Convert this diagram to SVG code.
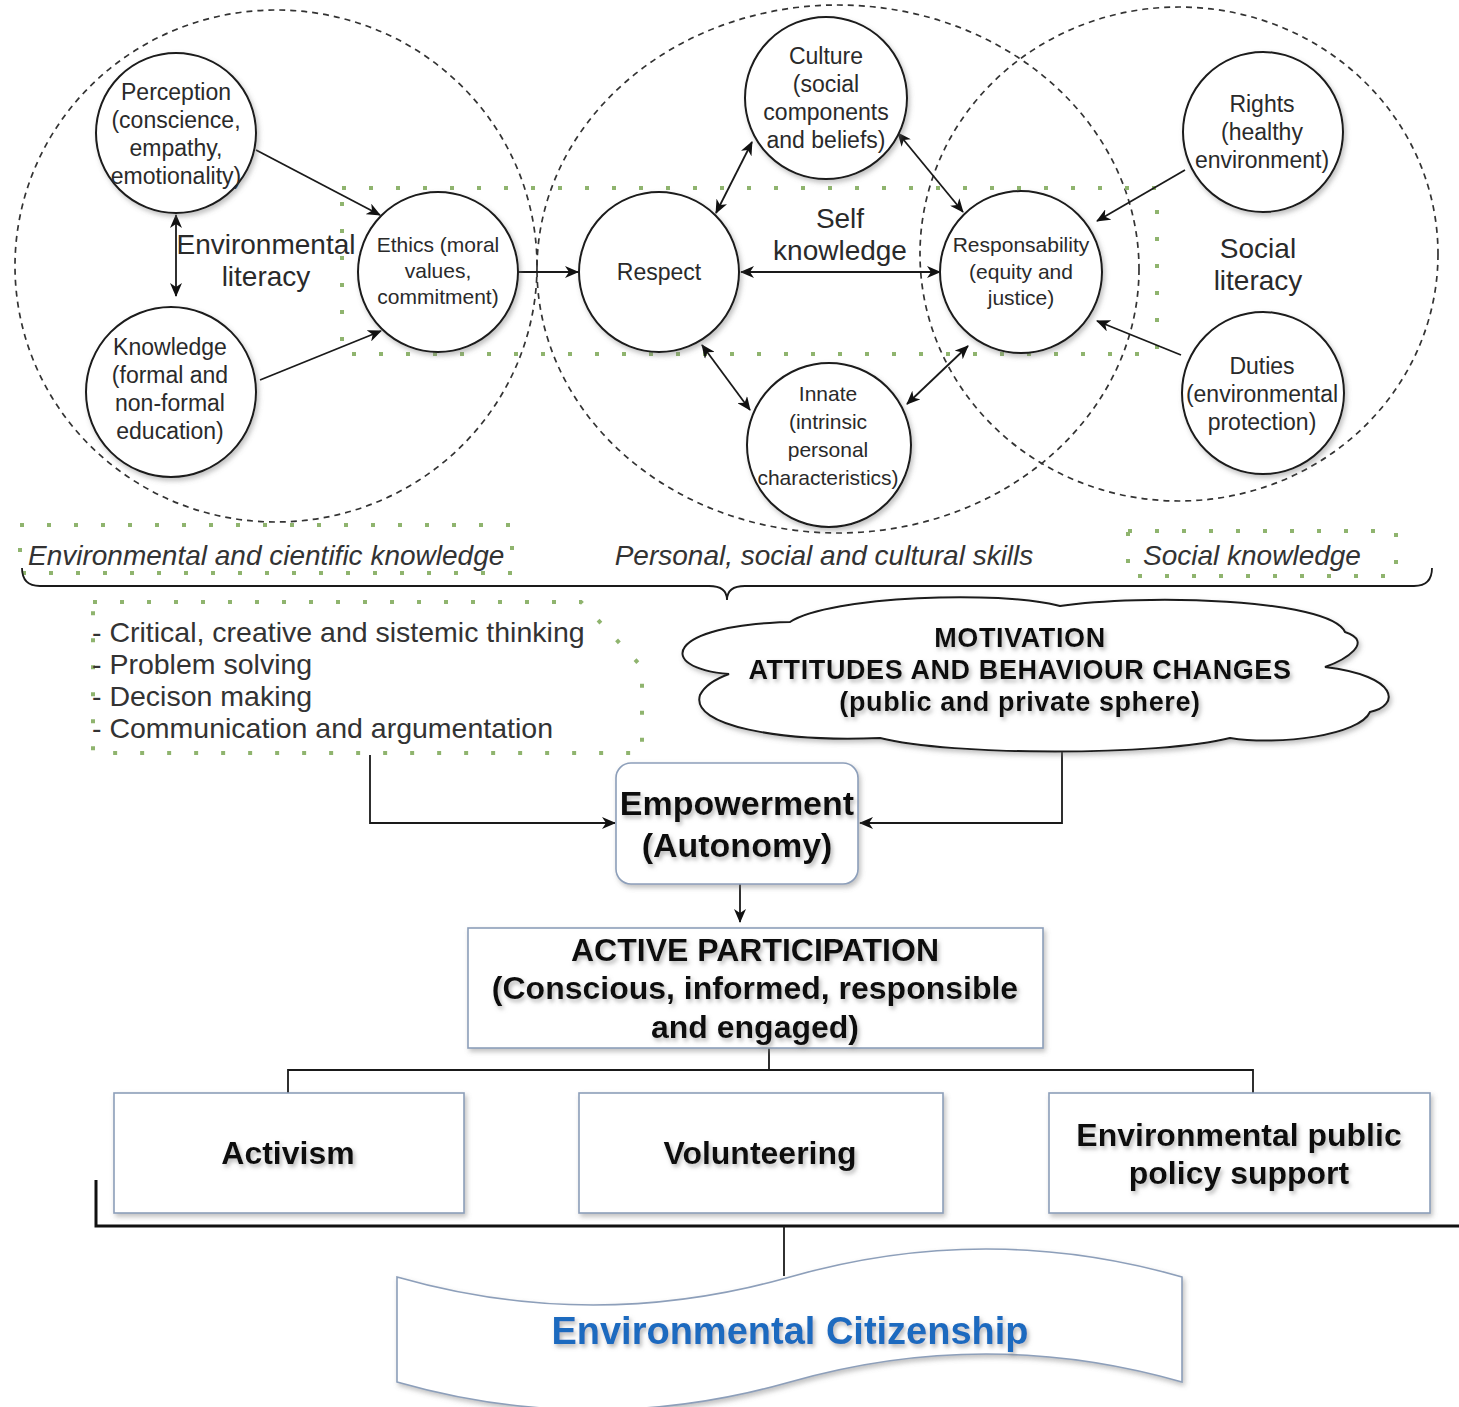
<svg xmlns="http://www.w3.org/2000/svg" width="1459" height="1407" viewBox="0 0 1459 1407">
<defs>
<style>
.dash{fill:none;stroke:#333;stroke-width:1.7;stroke-dasharray:6 5}
.gdot{fill:none;stroke:#8fb46e;stroke-width:4;stroke-dasharray:4 23}
.node{fill:#fff;stroke:#1a1a1a;stroke-width:2}
.box{fill:#fff;stroke:#8d9fba;stroke-width:1.6}
.ln{fill:none;stroke:#1a1a1a;stroke-width:1.8}
.t{font-family:"Liberation Sans",Arial,sans-serif;fill:#2a2a2a;text-anchor:middle}
.s23{font-size:23px}
.s21{font-size:21px}
.s28{font-size:28px}
.it{font-family:"Liberation Sans",Arial,sans-serif;font-style:italic;font-size:28px;fill:#333}
.b{font-family:"Liberation Sans",Arial,sans-serif;font-weight:bold;fill:#111;text-anchor:middle}
</style>
<marker id="ah" viewBox="0 0 14 12" markerWidth="14" markerHeight="12" refX="13" refY="6" orient="auto-start-reverse" markerUnits="userSpaceOnUse">
<path d="M0,0 L14,6 L0,12 L4,6 Z" fill="#111"/>
</marker>
<filter id="sh" x="-20%" y="-20%" width="140%" height="140%">
<feDropShadow dx="2" dy="3" stdDeviation="2.5" flood-color="#777" flood-opacity="0.45"/>
</filter>
<filter id="tsh" x="-10%" y="-30%" width="120%" height="160%">
<feDropShadow dx="2" dy="3" stdDeviation="2" flood-color="#888" flood-opacity="0.6"/>
</filter>
</defs>
<rect width="1459" height="1407" fill="#fff"/>

<g id="background-groups">
<ellipse class="dash" cx="276" cy="266" rx="261" ry="256"/>
<ellipse class="dash" cx="838" cy="269" rx="301" ry="264"/>
<ellipse class="dash" cx="1179" cy="254" rx="259" ry="247"/>
<rect class="gdot" x="342" y="188" width="815" height="166"/>
<rect class="gdot" x="20" y="525" width="492" height="48"/>
<rect class="gdot" x="1128" y="531" width="268" height="45"/>
<path class="gdot" d="M93,602 L581,602 L642,667 L642,753 L93,753 Z"/>
</g>

<g id="labels">
<text class="t s28" x="266" y="254">Environmental</text>
<text class="t s28" x="266" y="286">literacy</text>
<text class="t s28" x="840" y="228">Self</text>
<text class="t s28" x="840" y="260">knowledge</text>
<text class="t s28" x="1258" y="258">Social</text>
<text class="t s28" x="1258" y="290">literacy</text>
<text class="it" x="28" y="565">Environmental and cientific knowledge</text>
<text class="it" x="824" y="565" text-anchor="middle">Personal, social and cultural skills</text>
<text class="it" x="1143" y="565">Social knowledge</text>
<g font-family="Liberation Sans, Arial, sans-serif" font-size="28.5" fill="#333">
<text x="92" y="642">- Critical, creative and sistemic thinking</text>
<text x="92" y="674">- Problem solving</text>
<text x="92" y="706">- Decison making</text>
<text x="92" y="738">- Communication and argumentation</text>
</g>
</g>

<g id="connectors">
<line class="ln" x1="176" y1="215" x2="176" y2="296" marker-start="url(#ah)" marker-end="url(#ah)"/>
<line class="ln" x1="256" y1="150" x2="380" y2="215" marker-end="url(#ah)"/>
<line class="ln" x1="260" y1="380" x2="381" y2="331" marker-end="url(#ah)"/>
<line class="ln" x1="518" y1="272" x2="578" y2="272" marker-end="url(#ah)"/>
<line class="ln" x1="716" y1="213" x2="752" y2="142" marker-start="url(#ah)" marker-end="url(#ah)"/>
<line class="ln" x1="898" y1="133" x2="963" y2="212" marker-start="url(#ah)" marker-end="url(#ah)"/>
<line class="ln" x1="741" y1="272" x2="940" y2="272" marker-start="url(#ah)" marker-end="url(#ah)"/>
<line class="ln" x1="702" y1="345" x2="750" y2="410" marker-start="url(#ah)" marker-end="url(#ah)"/>
<line class="ln" x1="907" y1="404" x2="968" y2="346" marker-start="url(#ah)" marker-end="url(#ah)"/>
<line class="ln" x1="1185" y1="170" x2="1097" y2="221" marker-end="url(#ah)"/>
<line class="ln" x1="1181" y1="355" x2="1097" y2="321" marker-end="url(#ah)"/>
<path class="ln" d="M22,568 Q22,586 40,586 L709,586 Q727,586 727,600 Q727,586 745,586 L1414,586 Q1432,586 1432,568"/>
<path class="ln" d="M370,755 L370,823 L615,823" marker-end="url(#ah)"/>
<path class="ln" d="M1062,750 L1062,823 L860,823" marker-end="url(#ah)"/>
<line class="ln" x1="740" y1="884" x2="740" y2="922" marker-end="url(#ah)"/>
<path class="ln" d="M769,1048 L769,1070 M288,1093 L288,1070 L1253,1070 L1253,1093"/>
<path fill="none" stroke="#111" stroke-width="3" d="M96,1180 L96,1226 L1459,1226"/>
<line class="ln" x1="784" y1="1226" x2="784" y2="1276"/>
</g>

<g id="perception" filter="url(#sh)"><circle class="node" cx="176" cy="133" r="80"/></g>
<g class="t s23"><text x="176" y="100">Perception</text><text x="176" y="128">(conscience,</text><text x="176" y="156">empathy,</text><text x="176" y="184">emotionality)</text></g>

<g id="knowledge" filter="url(#sh)"><circle class="node" cx="171" cy="392" r="85"/></g>
<g class="t s23"><text x="170" y="355">Knowledge</text><text x="170" y="383">(formal and</text><text x="170" y="411">non-formal</text><text x="170" y="439">education)</text></g>

<g id="ethics" filter="url(#sh)"><circle class="node" cx="438" cy="272" r="80"/></g>
<g class="t s21"><text x="438" y="252">Ethics (moral</text><text x="438" y="278">values,</text><text x="438" y="304">commitment)</text></g>

<g id="respect" filter="url(#sh)"><circle class="node" cx="659" cy="272" r="80"/></g>
<g class="t s23"><text x="659" y="280">Respect</text></g>

<g id="culture" filter="url(#sh)"><circle class="node" cx="826" cy="98" r="81"/></g>
<g class="t s23"><text x="826" y="64">Culture</text><text x="826" y="92">(social</text><text x="826" y="120">components</text><text x="826" y="148">and beliefs)</text></g>

<g id="innate" filter="url(#sh)"><circle class="node" cx="829" cy="445" r="82"/></g>
<g class="t s21"><text x="828" y="401">Innate</text><text x="828" y="429">(intrinsic</text><text x="828" y="457">personal</text><text x="828" y="485">characteristics)</text></g>

<g id="responsability" filter="url(#sh)"><circle class="node" cx="1021" cy="272" r="81"/></g>
<g class="t s21"><text x="1021" y="252">Responsability</text><text x="1021" y="279">(equity and</text><text x="1021" y="305">justice)</text></g>

<g id="rights" filter="url(#sh)"><circle class="node" cx="1263" cy="132" r="80"/></g>
<g class="t s23"><text x="1262" y="112">Rights</text><text x="1262" y="140">(healthy</text><text x="1262" y="168">environment)</text></g>

<g id="duties" filter="url(#sh)"><circle class="node" cx="1263" cy="393" r="81"/></g>
<g class="t s23"><text x="1262" y="374">Duties</text><text x="1262" y="402">(environmental</text><text x="1262" y="430">protection)</text></g>

<g id="motivation">
<path filter="url(#sh)" fill="#fff" stroke="#1a1a1a" stroke-width="2" d="M729,674 C655,668 665,625 790,622 C830,596 1000,590 1060,606 C1140,594 1330,598 1345,632 C1375,642 1345,660 1325,667 C1400,676 1400,706 1370,712 C1360,735 1280,746 1230,738 C1160,756 950,756 880,738 C780,742 690,726 700,695 C705,685 718,678 729,674 Z"/>
<g class="b" font-size="27" letter-spacing="0.6" filter="url(#tsh)">
<text x="1020" y="647">MOTIVATION</text>
<text x="1020" y="679">ATTITUDES AND BEHAVIOUR CHANGES</text>
<text x="1020" y="711">(public and private sphere)</text>
</g>
</g>

<g id="empowerment">
<rect class="box" filter="url(#sh)" x="616" y="763" width="242" height="121" rx="15"/>
<g class="b" font-size="34" filter="url(#tsh)"><text x="737" y="815">Empowerment</text><text x="737" y="857">(Autonomy)</text></g>
</g>

<g id="active-participation">
<rect class="box" filter="url(#sh)" x="468" y="928" width="575" height="120"/>
<g class="b" font-size="32" filter="url(#tsh)"><text x="755" y="961">ACTIVE PARTICIPATION</text><text x="755" y="999">(Conscious, informed, responsible</text><text x="755" y="1038">and engaged)</text></g>
</g>

<g id="activism">
<rect class="box" filter="url(#sh)" x="114" y="1093" width="350" height="120"/>
<text class="b" font-size="32" filter="url(#tsh)" x="288" y="1164">Activism</text>
</g>
<g id="volunteering">
<rect class="box" filter="url(#sh)" x="579" y="1093" width="364" height="120"/>
<text class="b" font-size="32" filter="url(#tsh)" x="760" y="1164">Volunteering</text>
</g>
<g id="policy-support">
<rect class="box" filter="url(#sh)" x="1049" y="1093" width="381" height="120"/>
<g class="b" font-size="32" filter="url(#tsh)"><text x="1239" y="1146">Environmental public</text><text x="1239" y="1184">policy support</text></g>
</g>

<g id="environmental-citizenship">
<path filter="url(#sh)" fill="#fff" stroke="#8d9fba" stroke-width="1.6" d="M397,1277 Q593,1333 790,1277 Q986,1221 1182,1277 L1182,1382 Q986,1326 790,1382 Q593,1438 397,1382 Z"/>
<text class="b" font-size="38" style="fill:#1f6bbf" filter="url(#tsh)" x="790" y="1344">Environmental Citizenship</text>
</g>
</svg>
